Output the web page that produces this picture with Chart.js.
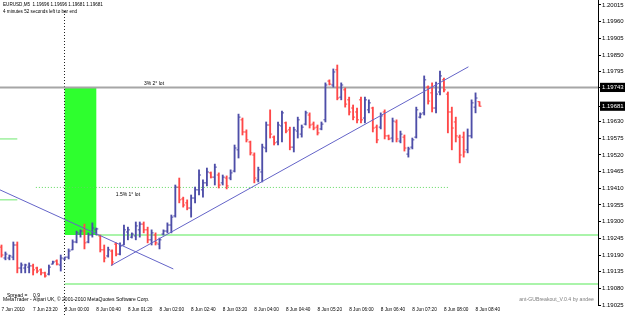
<!DOCTYPE html>
<html>
<head>
<meta charset="utf-8">
<script src="https://cdn.jsdelivr.net/npm/chart.js@4.4.0/dist/chart.umd.min.js"></script>
<style>
  html, body { margin: 0; padding: 0; background: #fff; }
  #wrap { width: 625px; height: 315px; }
</style>
</head>
<body>
<div id="wrap"><canvas id="myChart" width="625" height="315"></canvas></div>
<script>
(function () {
    'use strict';

    // EURUSD M5, bar 0 = 7 Jun 2010 22:40, one bar every 5 minutes
    const openP = [
        1.19216, 1.19180, 1.19180, 1.19183, 1.19223, 1.19147, 1.19147, 1.19150, 1.19154, 1.19147,
        1.19141, 1.19131, 1.19127, 1.19160, 1.19170, 1.19157, 1.19177, 1.19183, 1.19207, 1.19233,
        1.19259, 1.19269, 1.19233, 1.19256, 1.19273, 1.19253, 1.19207, 1.19187, 1.19203, 1.19226,
        1.19193, 1.19223, 1.19266, 1.19249, 1.19253, 1.19273, 1.19292, 1.19273, 1.19240, 1.19256,
        1.19226, 1.19259, 1.19269, 1.19289, 1.19319, 1.19414, 1.19375, 1.19362, 1.19345, 1.19378,
        1.19405, 1.19405, 1.19428, 1.19461, 1.19447, 1.19454, 1.19428, 1.19444, 1.19444, 1.19467,
        1.19537, 1.19636, 1.19596, 1.19563, 1.19520, 1.19438, 1.19464, 1.19543, 1.19619, 1.19579,
        1.19563, 1.19616, 1.19626, 1.19603, 1.19546, 1.19599, 1.19589, 1.19622, 1.19652, 1.19622,
        1.19612, 1.19606, 1.19636, 1.19764, 1.19751, 1.19801, 1.19711, 1.19735, 1.19702, 1.19675,
        1.19662, 1.19702, 1.19642, 1.19669, 1.19675, 1.19612, 1.19612, 1.19662, 1.19583, 1.19576,
        1.19629, 1.19566, 1.19579, 1.19523, 1.19546, 1.19579, 1.19645, 1.19659, 1.19744, 1.19725,
        1.19675, 1.19728, 1.19768, 1.19721, 1.19662, 1.19629, 1.19579, 1.19579, 1.19537, 1.19583,
        1.19678, 1.19696
    ];
    const highP = [
        1.19223, 1.19200, 1.19190, 1.19233, 1.19233, 1.19164, 1.19160, 1.19164, 1.19160, 1.19150,
        1.19144, 1.19134, 1.19157, 1.19170, 1.19174, 1.19190, 1.19183, 1.19210, 1.19240, 1.19269,
        1.19273, 1.19292, 1.19263, 1.19296, 1.19279, 1.19256, 1.19223, 1.19216, 1.19207, 1.19230,
        1.19230, 1.19289, 1.19282, 1.19263, 1.19299, 1.19299, 1.19299, 1.19282, 1.19273, 1.19263,
        1.19246, 1.19273, 1.19296, 1.19322, 1.19421, 1.19444, 1.19381, 1.19372, 1.19388, 1.19414,
        1.19471, 1.19438, 1.19477, 1.19464, 1.19490, 1.19461, 1.19454, 1.19451, 1.19471, 1.19553,
        1.19655, 1.19642, 1.19603, 1.19566, 1.19527, 1.19480, 1.19556, 1.19629, 1.19669, 1.19583,
        1.19629, 1.19665, 1.19629, 1.19612, 1.19612, 1.19645, 1.19619, 1.19665, 1.19659, 1.19629,
        1.19619, 1.19629, 1.19758, 1.19768, 1.19804, 1.19817, 1.19758, 1.19741, 1.19711, 1.19685,
        1.19675, 1.19711, 1.19711, 1.19702, 1.19678, 1.19619, 1.19659, 1.19669, 1.19586, 1.19642,
        1.19636, 1.19599, 1.19586, 1.19546, 1.19576, 1.19678, 1.19659, 1.19781, 1.19748, 1.19758,
        1.19761, 1.19797, 1.19774, 1.19728, 1.19678, 1.19645, 1.19586, 1.19596, 1.19606, 1.19702,
        1.19725, 1.19696
    ];
    const lowP = [
        1.19183, 1.19174, 1.19174, 1.19174, 1.19131, 1.19131, 1.19131, 1.19131, 1.19124, 1.19131,
        1.19124, 1.19117, 1.19124, 1.19160, 1.19157, 1.19137, 1.19174, 1.19177, 1.19207, 1.19230,
        1.19249, 1.19210, 1.19230, 1.19249, 1.19256, 1.19200, 1.19167, 1.19183, 1.19157, 1.19187,
        1.19190, 1.19223, 1.19240, 1.19246, 1.19240, 1.19249, 1.19263, 1.19230, 1.19223, 1.19223,
        1.19210, 1.19256, 1.19263, 1.19263, 1.19315, 1.19362, 1.19348, 1.19339, 1.19315, 1.19362,
        1.19388, 1.19381, 1.19418, 1.19444, 1.19421, 1.19411, 1.19421, 1.19408, 1.19438, 1.19464,
        1.19510, 1.19586, 1.19563, 1.19520, 1.19428, 1.19431, 1.19431, 1.19530, 1.19576, 1.19553,
        1.19553, 1.19563, 1.19593, 1.19537, 1.19530, 1.19576, 1.19579, 1.19619, 1.19609, 1.19603,
        1.19586, 1.19603, 1.19629, 1.19751, 1.19744, 1.19702, 1.19702, 1.19678, 1.19652, 1.19636,
        1.19626, 1.19626, 1.19626, 1.19659, 1.19596, 1.19560, 1.19606, 1.19573, 1.19570, 1.19563,
        1.19563, 1.19560, 1.19533, 1.19513, 1.19540, 1.19576, 1.19642, 1.19652, 1.19688, 1.19662,
        1.19659, 1.19718, 1.19728, 1.19593, 1.19537, 1.19563, 1.19494, 1.19513, 1.19527, 1.19576,
        1.19659, 1.19681
    ];
    const closeP = [
        1.19190, 1.19193, 1.19187, 1.19223, 1.19147, 1.19157, 1.19157, 1.19154, 1.19141, 1.19137,
        1.19131, 1.19121, 1.19150, 1.19167, 1.19160, 1.19180, 1.19183, 1.19203, 1.19233, 1.19263,
        1.19269, 1.19230, 1.19256, 1.19279, 1.19276, 1.19207, 1.19180, 1.19207, 1.19167, 1.19193,
        1.19220, 1.19273, 1.19273, 1.19259, 1.19286, 1.19292, 1.19273, 1.19240, 1.19263, 1.19230,
        1.19240, 1.19269, 1.19289, 1.19315, 1.19414, 1.19372, 1.19355, 1.19345, 1.19378, 1.19405,
        1.19454, 1.19428, 1.19464, 1.19447, 1.19480, 1.19421, 1.19447, 1.19418, 1.19461, 1.19543,
        1.19645, 1.19596, 1.19570, 1.19527, 1.19444, 1.19471, 1.19546, 1.19619, 1.19589, 1.19560,
        1.19619, 1.19659, 1.19599, 1.19546, 1.19603, 1.19636, 1.19612, 1.19659, 1.19619, 1.19609,
        1.19593, 1.19622, 1.19751, 1.19754, 1.19794, 1.19708, 1.19751, 1.19688, 1.19662, 1.19645,
        1.19636, 1.19636, 1.19702, 1.19692, 1.19609, 1.19570, 1.19649, 1.19583, 1.19573, 1.19632,
        1.19573, 1.19589, 1.19543, 1.19540, 1.19570, 1.19669, 1.19655, 1.19768, 1.19698, 1.19675,
        1.19721, 1.19781, 1.19735, 1.19662, 1.19609, 1.19583, 1.19520, 1.19530, 1.19583, 1.19692,
        1.19708, 1.19681
    ];

    const timeTickIdx = [0, 8, 16, 24, 32, 40, 48, 56, 64, 72, 80, 88, 96, 104, 112, 120];
    const timeTicks = ['7 Jun 2010', '7 Jun 23:20', '8 Jun 00:00', '8 Jun 00:40', '8 Jun 01:20',
        '8 Jun 02:00', '8 Jun 02:40', '8 Jun 03:20', '8 Jun 04:00', '8 Jun 04:40', '8 Jun 05:20',
        '8 Jun 06:00', '8 Jun 06:40', '8 Jun 07:20', '8 Jun 08:00', '8 Jun 08:40'];
    const priceTicks = [1.20015, 1.19960, 1.19905, 1.19850, 1.19795, 1.19743, 1.19681, 1.19630,
        1.19575, 1.19520, 1.19465, 1.19410, 1.19355, 1.19300, 1.19245, 1.19190, 1.19135, 1.19080, 1.19025];
    const markedPrices = [1.19743, 1.19681];   // level line + bid

    // objects drawn on the chart (bar index, price)
    const trendDown = [{x: -0.4, y: 1.19405}, {x: 43.5, y: 1.19144}];
    const trendUp = [{x: 27.7, y: 1.19155}, {x: 118.2, y: 1.19811}];
    const lot2Level = 1.19743;
    const lot1Level = 1.19413;
    const lot1Span = [8.7, 113];
    const boxX = [16, 24];
    const boxY = [1.19256, 1.19743];
    const greenHi = 1.19256;
    const greenLo = 1.19094;
    const leftMarks = [1.19573, 1.19372];
    const daySeparator = 16;

    const X_MIN = -0.38, X_MAX = 151;
    const UP = '#4e4ea8', DOWN = '#ff4848';
    const FONT = "'Liberation Sans', Arial, sans-serif";

    Chart.defaults.font.family = FONT;

    const isUp = i => closeP[i] >= openP[i];

    function hLine(level, from, to, color, width, dash, order) {
        return {
            type: 'line',
            data: [{x: from, y: level}, {x: to, y: level}],
            borderColor: color, borderWidth: width, borderDash: dash || [],
            pointRadius: 0, order: order
        };
    }

    const overlay = {
        id: 'overlay',
        beforeDatasetsDraw(chart) {
            const ctx = chart.ctx, x = chart.scales.x, y = chart.scales.y;
            ctx.save();
            ctx.fillStyle = '#2eff2e';
            const x0 = x.getPixelForValue(boxX[0]), x1 = x.getPixelForValue(boxX[1]);
            const y0 = y.getPixelForValue(boxY[1]), y1 = y.getPixelForValue(boxY[0]);
            ctx.fillRect(x0, y0, x1 - x0, y1 - y0);

            ctx.strokeStyle = '#222';
            ctx.lineWidth = 1;
            ctx.setLineDash([1, 2]);
            const sx = Math.round(x.getPixelForValue(daySeparator)) - 0.5;
            ctx.beginPath();
            ctx.moveTo(sx, 11);
            ctx.lineTo(sx, chart.height);
            ctx.stroke();
            ctx.restore();
        },
        afterDraw(chart) {
            const ctx = chart.ctx, x = chart.scales.x, y = chart.scales.y;
            ctx.save();
            ctx.fillStyle = '#000';
            ctx.textBaseline = 'middle';
            ctx.textAlign = 'left';
            ctx.font = '4.6px ' + FONT;
            ctx.fillText('EURUSD,M5  1.19696 1.19696 1.19681 1.19681', 3, 5);
            ctx.fillText('4 minutes 52 seconds left to bar end', 3, 12);
            ctx.font = '5px ' + FONT;
            ctx.fillText('Spread =    0.9', 7, 296);
            ctx.fillText('MetaTrader - Alpari UK, \u00a9 2001-2010 MetaQuotes Software Corp.', 3, 300);

            ctx.textAlign = 'center';
            ctx.fillText('3% 2\u00b0 lot', x.getPixelForValue(38.6), y.getPixelForValue(lot2Level) - 4);
            ctx.fillText('1.5% 1\u00b0 lot', x.getPixelForValue(32), y.getPixelForValue(lot1Level) + 7);

            ctx.fillStyle = '#808080';
            ctx.textAlign = 'right';
            ctx.font = '5.2px ' + FONT;
            ctx.fillText('ant-GUBreakout_V.0.4 by andee', 594, 300);
            ctx.restore();
        }
    };

    const ctx = document.getElementById('myChart').getContext('2d');
    const chart = new Chart(ctx, {
        type: 'bar',
        data: {
            datasets: [
                {
                    type: 'line', data: trendDown, borderColor: '#6464c8', borderWidth: 1,
                    pointRadius: 0, order: 0
                },
                {
                    type: 'line', data: trendUp, borderColor: '#6464c8', borderWidth: 1,
                    pointRadius: 0, order: 0
                },
                {
                    type: 'line', showLine: false, order: 1,
                    data: openP.map((v, i) => ({x: i, y: v})),
                    pointStyle: 'dash', pointRotation: 180, pointRadius: 2, pointBorderWidth: 1,
                    pointBorderColor: c => isUp(c.dataIndex) ? UP : DOWN
                },
                {
                    type: 'line', showLine: false, order: 1,
                    data: closeP.map((v, i) => ({x: i, y: v})),
                    pointStyle: 'dash', pointRotation: 0, pointRadius: 2, pointBorderWidth: 1,
                    pointBorderColor: c => isUp(c.dataIndex) ? UP : DOWN
                },
                {
                    type: 'bar', order: 2,
                    data: highP.map((h, i) => ({x: i, y: [lowP[i], h]})),
                    barThickness: 1.2, borderWidth: 0,
                    backgroundColor: c => isUp(c.dataIndex) ? UP : DOWN
                },
                hLine(lot2Level, X_MIN, X_MAX, '#a6a6a6', 2, null, 3),
                hLine(greenHi, boxX[1], X_MAX, '#8ef08e', 1.5, null, 3),
                hLine(greenLo, boxX[0], X_MAX, '#8ef08e', 1.5, null, 3),
                hLine(lot1Level, lot1Span[0], lot1Span[1], '#5fd85f', 1, [1, 2], 3),
                hLine(leftMarks[0], X_MIN, 4, '#6ee86e', 1, null, 3),
                hLine(leftMarks[1], X_MIN, 4, '#6ee86e', 1, null, 3)
            ]
        },
        options: {
            responsive: false,
            animation: false,
            events: [],
            layout: {padding: 0, autoPadding: false},
            plugins: {legend: {display: false}, tooltip: {enabled: false}},
            scales: {
                x: {
                    type: 'linear', position: 'bottom', min: X_MIN, max: X_MAX,
                    offset: false,
                    grid: {display: false, drawTicks: false, offset: false},
                    border: {display: false},
                    afterBuildTicks: s => { s.ticks = timeTickIdx.map(v => ({value: v})); },
                    afterFit: s => { s.height = 10; s.paddingLeft = 0; s.paddingRight = 0; },
                    ticks: {
                        autoSkip: false, maxRotation: 0, align: 'start', padding: 2,
                        color: '#000', font: {size: 4.7},
                        callback: (v, i) => timeTicks[i]
                    }
                },
                y: {
                    type: 'linear', position: 'right', min: 1.19025, max: 1.200315,
                    grid: {drawOnChartArea: false, tickLength: 3, color: '#000'},
                    border: {display: true, color: '#000'},
                    afterBuildTicks: s => { s.ticks = priceTicks.map(v => ({value: v})); },
                    afterFit: s => { s.width = 27; s.paddingTop = 0; s.paddingBottom = 0; },
                    ticks: {
                        autoSkip: false, padding: 1, font: {size: 6},
                        color: c => markedPrices.includes(c.tick.value) ? '#fff' : '#000',
                        showLabelBackdrop: c => markedPrices.includes(c.tick.value),
                        backdropColor: '#000',
                        backdropPadding: {x: 2, y: 1},
                        callback: v => v.toFixed(5)
                    }
                }
            }
        },
        plugins: [overlay]
    });
})();
</script>
</body>
</html>
